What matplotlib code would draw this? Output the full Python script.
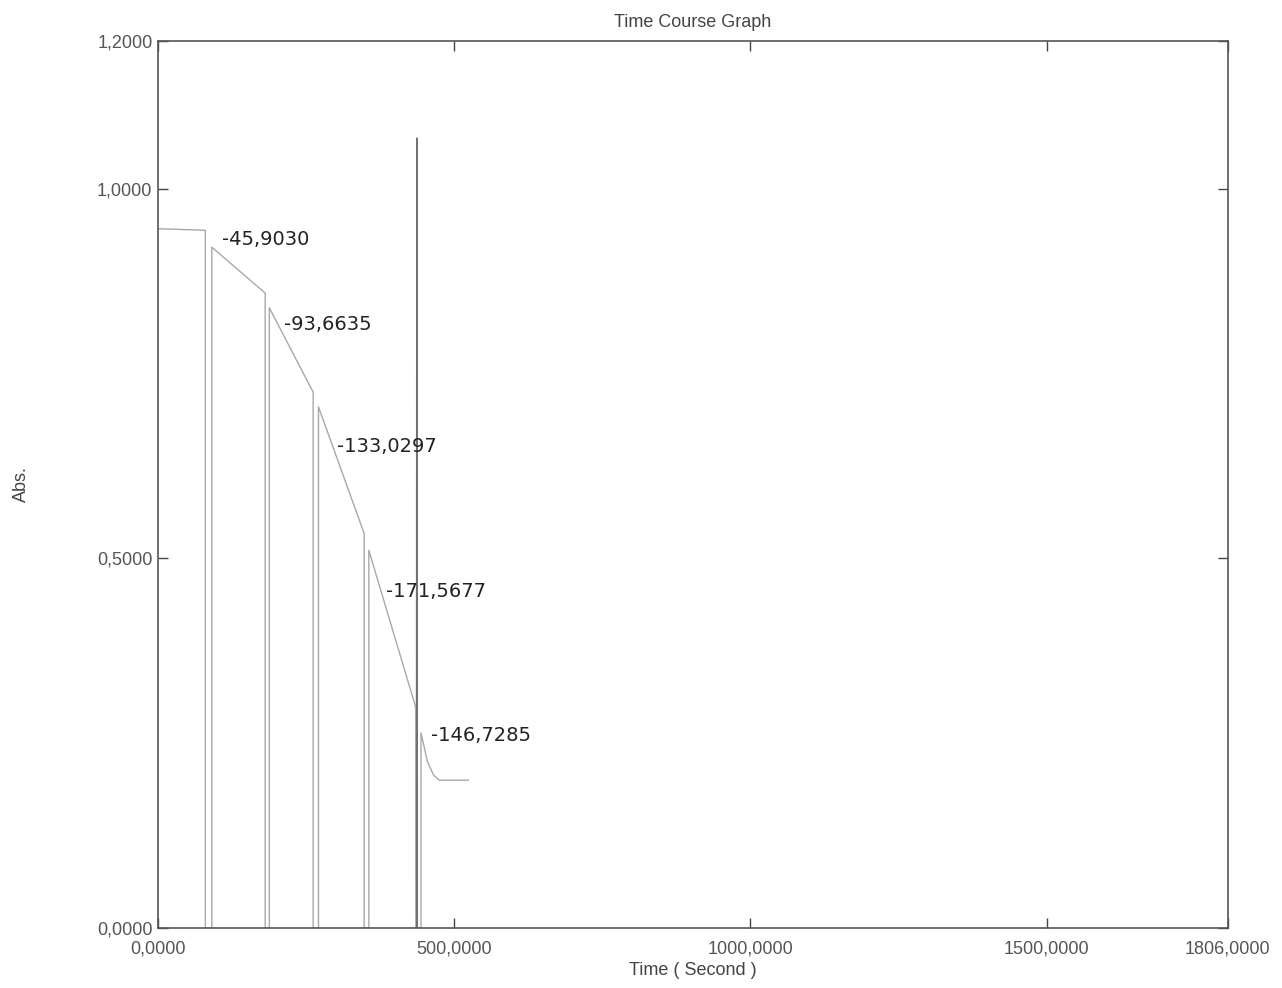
import matplotlib.pyplot as plt

# trace: time (s) and absorbance
time_s = [0, 80, 80, 91, 91, 181, 181, 188, 188, 262, 262, 271, 271, 348, 348, 356, 356,
          435, 436, 437, 438, 444, 444, 455, 465, 475, 524]
abs_val = [0.946, 0.944, 0.0, 0.0, 0.921, 0.859, 0.0, 0.0, 0.839, 0.725, 0.0, 0.0, 0.705,
           0.534, 0.0, 0.0, 0.511, 0.299, 0.0, 1.069, 0.0, 0.0, 0.264, 0.225, 0.207, 0.200, 0.200]

# handwritten slope notes
note_text = ["-45,9030", "-93,6635", "-133,0297", "-171,5677", "-146,7285"]
note_t = [108, 212, 303, 385, 461]
note_v = [0.931, 0.816, 0.651, 0.455, 0.261]

xticks = [0, 500, 1000, 1500, 1806]
xtick_labels = ["0,0000", "500,0000", "1000,0000", "1500,0000", "1806,0000"]
yticks = [0, 0.5, 1.0, 1.2]
ytick_labels = ["0,0000", "0,5000", "1,0000", "1,2000"]

fig = plt.figure(figsize=(12.82, 9.88), dpi=100)
ax = fig.add_axes([0.1232, 0.0607, 0.8346, 0.8978])

ax.plot(time_s, abs_val, color='#a8a8a8', lw=1.0)
ax.vlines(437.5, 0, 1.069, color='#666666', lw=1.2)

for txt, t, v in zip(note_text, note_t, note_v):
    ax.text(t, v, txt, fontsize=14, color='#222222', va='center', ha='left')

ax.set_xlim(0, 1806)
ax.set_ylim(0, 1.2)
ax.set_xticks(xticks)
ax.set_xticklabels(xtick_labels)
ax.set_yticks(yticks)
ax.set_yticklabels(ytick_labels)

ax.tick_params(direction='in', length=7, width=1, color='#444444',
               top=True, right=True, labelsize=13, labelcolor='#555555', pad=4)
ax.tick_params(axis='x', pad=9)
for lab in ax.get_xticklabels() + ax.get_yticklabels():
    lab.set_family('Liberation Sans')
for sp in ax.spines.values():
    sp.set_color('#555555')
    sp.set_linewidth(1.2)

ax.set_title("Time Course Graph", fontsize=13, color='#444444', pad=10,
             family='Liberation Sans')
ax.set_xlabel("Time ( Second )", fontsize=13, color='#444444', labelpad=3,
              family='Liberation Sans')
ax.set_ylabel("Abs.", fontsize=13, color='#444444', labelpad=48,
              family='Liberation Sans')

fig.savefig("out.png", dpi=100)
